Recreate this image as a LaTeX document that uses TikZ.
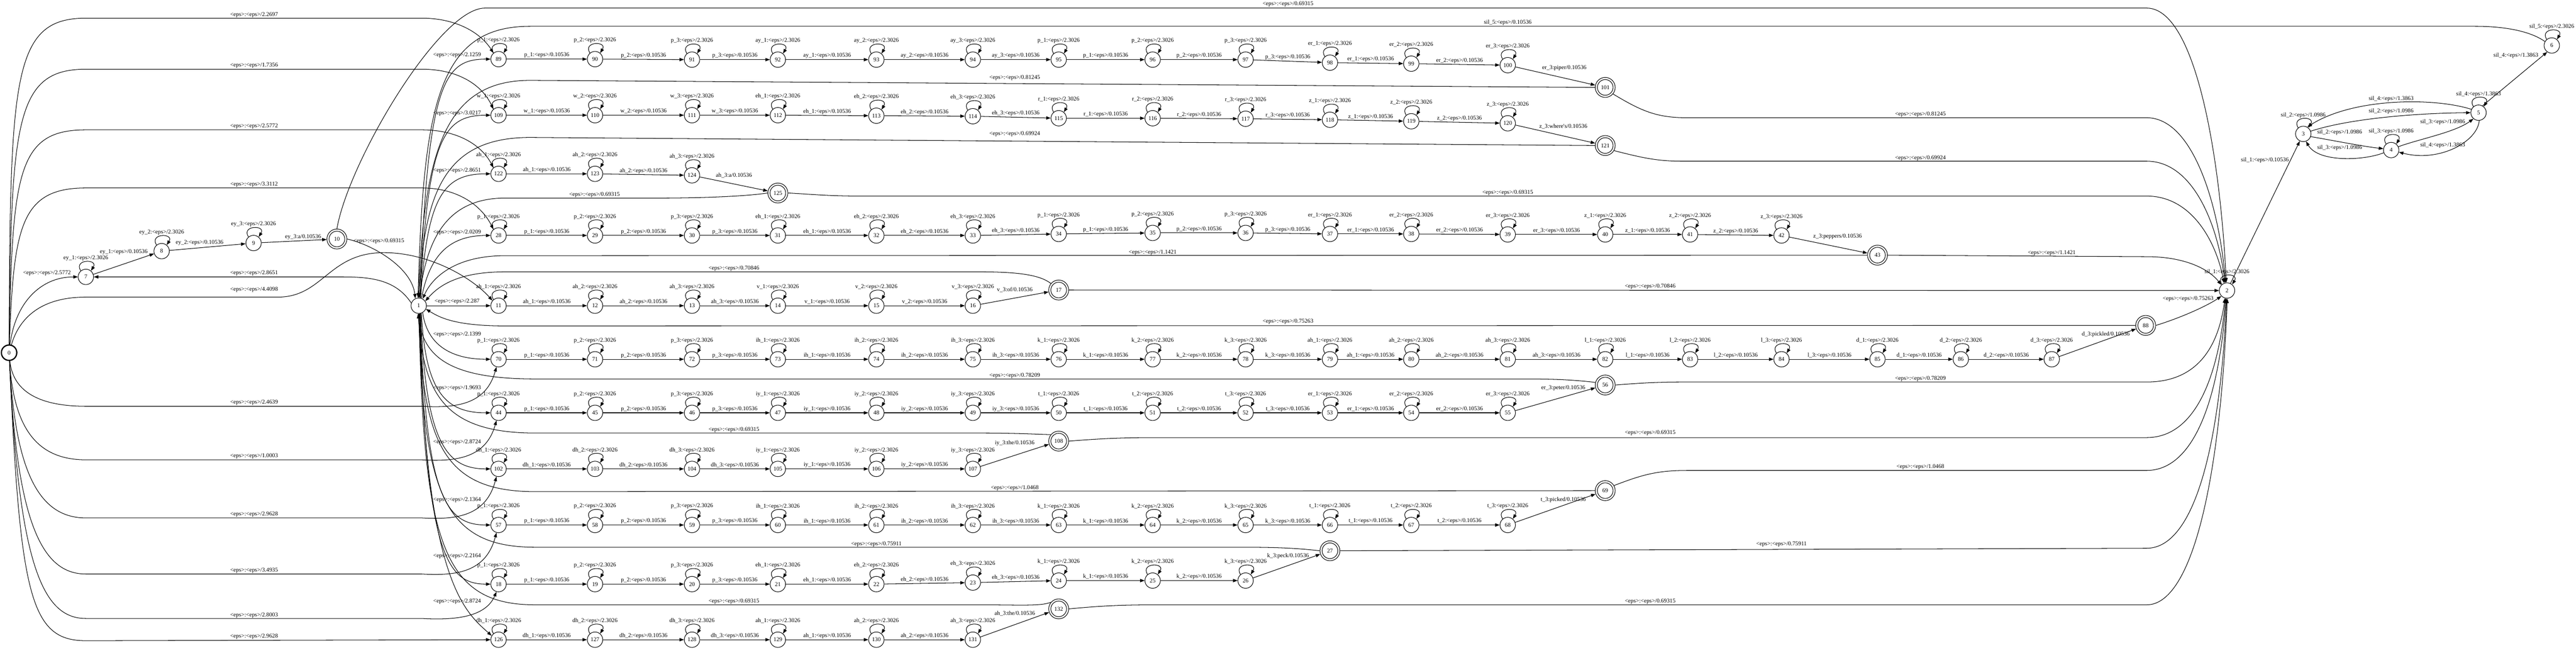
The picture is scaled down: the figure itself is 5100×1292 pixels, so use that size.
\documentclass[tikz,border=0pt]{standalone}
\usepackage{fontspec}
\setmainfont{Liberation Serif}
\usetikzlibrary{arrows.meta}
\newcommand\nf{\fontsize{3.27pt}{3.9pt}\selectfont}
\newcommand\LP[2]{\draw[ed] (n#1.130) .. controls +(122:2.8mm) and +(58:2.8mm) .. (n#1.50); \node[lab] at ([yshift=3.7mm]n#1.center) {#2};}
\newcommand\CN[4]{\draw[ed] (n#1) -- node[lab,yshift=0.75mm]{#3\_#4:<eps>/0.10536} (n#2); \LP{#1}{#3\_#4:<eps>/2.3026}}
\newcommand\CL[7]{\draw[ed] (n#1) -- (n#2); \node[lab] at (#6,#7) {#3\_#4:#5/0.10536}; \LP{#1}{#3\_#4:<eps>/2.3026}}
\newcommand\EL[3]{\node[lab] at (#1,#2) {<eps>:<eps>/#3};}
\begin{document}
\begin{tikzpicture}[x=0.1mm,y=-0.1mm,line width=0.3pt,
 st/.style={circle,draw,minimum size=3.05mm,inner sep=0pt,font=\nf},
 fin/.style={circle,draw,minimum size=3.95mm,inner sep=0pt,font=\nf,path picture={\draw (path picture bounding box.center) circle[radius=1.55mm];}},
 ed/.style={-{Triangle[length=0.9mm,width=0.65mm]}},
 lab/.style={font=\nf,inner sep=0pt}]
\useasboundingbox (0,0) rectangle (5100,1292);
% ---------- nodes
\node[st,line width=0.7pt] (n0) at (18,698) {0};
\foreach \i/\x/\y in {1/829/605,2/4409/575,3/4560/265,4/4734/297,5/4907/223,6/5052/90,
 7/170/548,8/320/497,9/502/481,
 89/987/117,90/1178/117,91/1370/118,92/1540/118,93/1735/118,94/1926/118,95/2096/118,96/2282/118,97/2466/118,98/2633/124,99/2794/126,100/2985/129,
 109/987/228,110/1178/228,111/1370/228,112/1540/228,113/1735/229,114/1926/230,115/2096/234,116/2282/234,117/2466/235,118/2633/237,119/2794/240,120/2985/244,
 122/987/344,123/1178/344,124/1370/347,
 28/987/466,29/1178/466,30/1370/466,31/1540/466,32/1735/466,33/1926/466,34/2096/463,35/2282/461,36/2466/461,37/2633/463,38/2794/463,39/2985/464,40/3178/464,41/3346/464,42/3527/466,
 11/987/605,12/1178/605,13/1370/605,14/1540/605,15/1735/605,16/1926/605,
 70/987/711,71/1178/711,72/1370/711,73/1540/711,74/1735/711,75/1926/711,76/2096/711,77/2282/711,78/2466/711,79/2633/711,80/2794/711,81/2985/711,82/3178/711,83/3346/711,84/3527/711,85/3717/711,86/3882/711,87/4062/711,
 44/987/817,45/1178/817,46/1370/817,47/1540/817,48/1735/817,49/1926/817,50/2096/817,51/2282/817,52/2466/817,53/2633/817,54/2794/817,55/2985/817,
 102/987/928,103/1178/928,104/1370/928,105/1540/928,106/1735/928,107/1926/928,
 57/987/1039,58/1178/1039,59/1370/1039,60/1540/1039,61/1735/1039,62/1926/1039,63/2096/1039,64/2282/1039,65/2466/1039,66/2633/1039,67/2794/1039,68/2985/1039,
 18/987/1156,19/1178/1156,20/1370/1156,21/1540/1156,22/1735/1156,23/1926/1153,24/2096/1149,25/2282/1149,26/2466/1149,
 126/987/1266,127/1178/1266,128/1370/1266,129/1540/1266,130/1735/1266,131/1926/1266}
 {\node[st] (n\i) at (\x,\y) {\i};}
\foreach \i/\x/\y in {10/667/473,101/3178/173,121/3178/288,125/1540/382,43/3717/505,17/2096/574,88/4248/644,56/3178/762,108/2096/873,69/3178/971,27/2633/1090,132/2096/1205}
 {\node[fin] (n\i) at (\x,\y) {\i};}
% ---------- word "a" (ey)
\draw[ed] (n7) -- (n8); \node[lab] at (245,499) {ey\_1:<eps>/0.10536};
\draw[ed] (n8) -- (n9); \node[lab] at (395,480) {ey\_2:<eps>/0.10536};
\draw[ed] (n9) -- (n10); \node[lab] at (600,469) {ey\_3:a/0.10536};
\LP{7}{ey\_1:<eps>/2.3026}\LP{8}{ey\_2:<eps>/2.3026}\LP{9}{ey\_3:<eps>/2.3026}
% ---------- chains
\CN{89}{90}{p}{1}\CN{90}{91}{p}{2}\CN{91}{92}{p}{3}\CN{92}{93}{ay}{1}\CN{93}{94}{ay}{2}\CN{94}{95}{ay}{3}\CN{95}{96}{p}{1}\CN{96}{97}{p}{2}\CN{97}{98}{p}{3}\CN{98}{99}{er}{1}\CN{99}{100}{er}{2}\CL{100}{101}{er}{3}{piper}{3097}{135}
\CN{109}{110}{w}{1}\CN{110}{111}{w}{2}\CN{111}{112}{w}{3}\CN{112}{113}{eh}{1}\CN{113}{114}{eh}{2}\CN{114}{115}{eh}{3}\CN{115}{116}{r}{1}\CN{116}{117}{r}{2}\CN{117}{118}{r}{3}\CN{118}{119}{z}{1}\CN{119}{120}{z}{2}\CL{120}{121}{z}{3}{where\textquotesingle s}{3095}{250}
\CN{122}{123}{ah}{1}\CN{123}{124}{ah}{2}\CL{124}{125}{ah}{3}{a}{1453}{347}
\CN{28}{29}{p}{1}\CN{29}{30}{p}{2}\CN{30}{31}{p}{3}\CN{31}{32}{eh}{1}\CN{32}{33}{eh}{2}\CN{33}{34}{eh}{3}\CN{34}{35}{p}{1}\CN{35}{36}{p}{2}\CN{36}{37}{p}{3}\CN{37}{38}{er}{1}\CN{38}{39}{er}{2}\CN{39}{40}{er}{3}\CN{40}{41}{z}{1}\CN{41}{42}{z}{2}\CL{42}{43}{z}{3}{peppers}{3638}{468}
\CN{11}{12}{ah}{1}\CN{12}{13}{ah}{2}\CN{13}{14}{ah}{3}\CN{14}{15}{v}{1}\CN{15}{16}{v}{2}\CL{16}{17}{v}{3}{of}{2009}{573}
\CN{70}{71}{p}{1}\CN{71}{72}{p}{2}\CN{72}{73}{p}{3}\CN{73}{74}{ih}{1}\CN{74}{75}{ih}{2}\CN{75}{76}{ih}{3}\CN{76}{77}{k}{1}\CN{77}{78}{k}{2}\CN{78}{79}{k}{3}\CN{79}{80}{ah}{1}\CN{80}{81}{ah}{2}\CN{81}{82}{ah}{3}\CN{82}{83}{l}{1}\CN{83}{84}{l}{2}\CN{84}{85}{l}{3}\CN{85}{86}{d}{1}\CN{86}{87}{d}{2}\CL{87}{88}{d}{3}{pickled}{4169}{662}
\CN{44}{45}{p}{1}\CN{45}{46}{p}{2}\CN{46}{47}{p}{3}\CN{47}{48}{iy}{1}\CN{48}{49}{iy}{2}\CN{49}{50}{iy}{3}\CN{50}{51}{t}{1}\CN{51}{52}{t}{2}\CN{52}{53}{t}{3}\CN{53}{54}{er}{1}\CN{54}{55}{er}{2}\CL{55}{56}{er}{3}{peter}{3095}{768}
\CN{102}{103}{dh}{1}\CN{103}{104}{dh}{2}\CN{104}{105}{dh}{3}\CN{105}{106}{iy}{1}\CN{106}{107}{iy}{2}\CL{107}{108}{iy}{3}{the}{2009}{877}
\CN{57}{58}{p}{1}\CN{58}{59}{p}{2}\CN{59}{60}{p}{3}\CN{60}{61}{ih}{1}\CN{61}{62}{ih}{2}\CN{62}{63}{ih}{3}\CN{63}{64}{k}{1}\CN{64}{65}{k}{2}\CN{65}{66}{k}{3}\CN{66}{67}{t}{1}\CN{67}{68}{t}{2}\CL{68}{69}{t}{3}{picked}{3095}{989}
\CN{18}{19}{p}{1}\CN{19}{20}{p}{2}\CN{20}{21}{p}{3}\CN{21}{22}{eh}{1}\CN{22}{23}{eh}{2}\CN{23}{24}{eh}{3}\CN{24}{25}{k}{1}\CN{25}{26}{k}{2}\CL{26}{27}{k}{3}{peck}{2550}{1100}
\CN{126}{127}{dh}{1}\CN{127}{128}{dh}{2}\CN{128}{129}{dh}{3}\CN{129}{130}{ah}{1}\CN{130}{131}{ah}{2}\CL{131}{132}{ah}{3}{the}{2009}{1214}
% ---------- edges from 0
\draw[ed] (n0) .. controls (20,150) and (25,36) .. (170,36) -- (835,36) .. controls (910,36) and (955,70) .. (n89.130); \EL{503}{30}{2.2697}
\draw[ed] (n0) .. controls (22,240) and (30,137) .. (170,137) -- (835,137) .. controls (910,137) and (955,170) .. (n109.130); \EL{503}{130}{1.7356}
\draw[ed] (n0) .. controls (24,340) and (35,257) .. (170,257) -- (835,257) .. controls (910,257) and (955,290) .. (n122.130); \EL{503}{250}{2.5772}
\draw[ed] (n0) .. controls (27,450) and (40,372) .. (170,372) -- (835,372) .. controls (910,372) and (955,410) .. (n28.130); \EL{503}{365}{3.3112}
\draw[ed] (n0) .. controls (30,600) and (80,548) .. (n7.west); \EL{93}{541}{2.5772}
\draw[ed] (n0) .. controls (35,640) and (70,588) .. (170,588) -- (550,588) .. controls (640,588) and (650,500) .. (760,500) .. controls (850,500) and (935,550) .. (n11.140); \EL{503}{573}{4.4098}
\draw[ed] (n0) .. controls (25,770) and (70,804) .. (170,804) -- (835,804) .. controls (905,808) and (962,800) .. (n70.-105); \EL{503}{797}{2.4639}
\draw[ed] (n0) .. controls (27,850) and (75,910) .. (170,910) -- (835,910) .. controls (905,914) and (962,906) .. (n44.-105); \EL{503}{903}{1.0003}
\draw[ed] (n0) .. controls (30,940) and (80,1025) .. (170,1025) -- (835,1025) .. controls (905,1029) and (962,1021) .. (n102.-105); \EL{503}{1018}{2.9628}
\draw[ed] (n0) .. controls (33,1040) and (85,1136) .. (170,1136) -- (835,1136) .. controls (905,1140) and (962,1132) .. (n57.-105); \EL{503}{1129}{3.4935}
\draw[ed] (n0) .. controls (37,1120) and (85,1224) .. (170,1224) -- (835,1224) .. controls (905,1228) and (962,1220) .. (n18.-105); \EL{503}{1218}{2.8003}
\draw[ed] (n0) .. controls (40,1180) and (60,1268) .. (170,1268) -- (n126); \EL{503}{1260}{2.9628}
% ---------- edges from 1
\draw[ed] (n1.80) .. controls (846,160) and (880,117) .. (n89.west); \EL{905}{109}{2.1259}
\draw[ed] (n1.78) .. controls (846,270) and (880,228) .. (n109.west); \EL{905}{224}{3.0217}
\draw[ed] (n1.76) .. controls (846,385) and (880,344) .. (n122.west); \EL{905}{338}{2.8651}
\draw[ed] (n1.70) .. controls (850,510) and (885,466) .. (n28.west); \EL{905}{460}{2.0209}
\draw[ed] (n1) -- (n11); \EL{905}{597}{2.287}
\draw[ed] (n1.160) .. controls (785,556) and (740,548) .. (680,548) -- (n7.east); \EL{503}{541}{2.8651}
\draw[ed] (n1.-60) .. controls (845,680) and (890,711) .. (n70.west); \EL{905}{662}{2.1399}
\draw[ed] (n1.-70) .. controls (842,780) and (885,817) .. (n44.west); \EL{905}{768}{1.9693}
\draw[ed] (n1.-75) .. controls (842,880) and (885,928) .. (n102.west); \EL{905}{875}{2.8724}
\draw[ed] (n1.-78) .. controls (842,990) and (885,1039) .. (n57.west); \EL{905}{989}{2.1364}
\draw[ed] (n1.-80) .. controls (842,1100) and (885,1156) .. (n18.west); \EL{905}{1101}{2.2164}
\draw[ed] (n1.-83) .. controls (840,1150) and (920,1210) .. (n126.150); \EL{905}{1190}{2.8724}
% ---------- edges back to 1
\draw[ed] (n6.150) .. controls (5010,62) and (4960,52) .. (4900,52) -- (1050,52) .. controls (870,52) and (838,200) .. (n1.95); \node[lab] at (2985,45) {sil\_5:<eps>/0.10536};
\draw[ed] (n10.east) .. controls (740,485) and (815,530) .. (n1.115); \EL{750}{477}{0.69315}
\draw[ed] (n101.west) -- (1050,159) .. controls (880,159) and (840,300) .. (n1.92); \EL{2009}{154}{0.81245}
\draw[ed] (n121.west) -- (1050,272) .. controls (880,272) and (840,380) .. (n1.89); \EL{2009}{265}{0.69924}
\draw[ed] (n125.west) .. controls (1480,388) and (1400,392) .. (1300,392) -- (1000,392) .. controls (880,392) and (845,480) .. (n1.86); \EL{1177}{385}{0.69315}
\draw[ed] (n43.west) -- (1000,506) .. controls (900,506) and (855,550) .. (n1.60); \EL{2282}{500}{1.1421}
\draw[ed] (n17.140) .. controls (2060,545) and (2020,538) .. (1940,538) -- (1000,538) .. controls (900,538) and (865,570) .. (n1.35); \EL{1453}{531}{0.70846}
\draw[ed] (n88.west) -- (1000,645) .. controls (900,645) and (870,628) .. (n1.-25); \EL{2550}{636}{0.75263}
\draw[ed] (n56.165) .. controls (3100,750) and (3060,750) .. (3000,750) -- (1060,750) .. controls (880,750) and (838,700) .. (n1.-95); \EL{2009}{744}{0.78209}
\draw[ed] (n108.140) .. controls (2060,860) and (2020,857) .. (1940,857) -- (1060,857) .. controls (880,857) and (838,780) .. (n1.-93); \EL{1453}{851}{0.69315}
\draw[ed] (n69.west) -- (1060,973) .. controls (880,973) and (838,880) .. (n1.-91); \EL{2009}{966}{1.0468}
\draw[ed] (n27.west) .. controls (2560,1084) and (2520,1083) .. (2450,1083) -- (1060,1083) .. controls (880,1083) and (838,980) .. (n1.-89); \EL{1735}{1077}{0.75911}
\draw[ed] (n132.140) .. controls (2060,1200) and (2020,1197) .. (1940,1197) -- (1060,1197) .. controls (880,1197) and (838,1080) .. (n1.-87); \EL{1453}{1190}{0.69315}
% ---------- edges to 2
\draw[ed] (n10.north) .. controls (690,320) and (870,16) .. (960,16) -- (4250,16) .. controls (4345,16) and (4395,300) .. (n2.95); \EL{2550}{8}{0.69315}
\draw[ed] (n101.-40) .. controls (3250,220) and (3280,233) .. (3340,233) -- (4250,233) .. controls (4340,233) and (4392,400) .. (n2.100); \EL{3802}{226}{0.81245}
\draw[ed] (n121.-30) .. controls (3250,312) and (3280,319) .. (3330,319) -- (4250,319) .. controls (4340,319) and (4390,440) .. (n2.105); \EL{3802}{313}{0.69924}
\draw[ed] (n125.east) .. controls (1600,384) and (1640,388) .. (1700,388) -- (4250,388) .. controls (4340,388) and (4388,480) .. (n2.112); \EL{2985}{381}{0.69315}
\draw[ed] (n43.east) -- (4250,508) .. controls (4330,508) and (4375,535) .. (n2.135); \EL{4062}{501}{1.1421}
\draw[ed] (n17) -- (n2); \EL{3267}{567}{0.70846}
\draw[ed] (n88.east) .. controls (4320,628) and (4370,605) .. (n2.-135); \EL{4332}{592}{0.75263}
\draw[ed] (n56.east) .. controls (3260,757) and (3290,756) .. (3340,756) -- (4250,756) .. controls (4340,756) and (4390,700) .. (n2.-105); \EL{3802}{750}{0.78209}
\draw[ed] (n108.east) .. controls (2180,868) and (2220,866) .. (2290,866) -- (4250,866) .. controls (4340,866) and (4390,760) .. (n2.-100); \EL{3267}{857}{0.69315}
\draw[ed] (n69.30) .. controls (3250,940) and (3280,931) .. (3340,931) -- (4250,931) .. controls (4340,931) and (4392,800) .. (n2.-96); \EL{3802}{924}{1.0468}
\draw[ed] (n27.east) -- (4250,1085) .. controls (4340,1085) and (4394,900) .. (n2.-92); \EL{3527}{1077}{0.75911}
\draw[ed] (n132.east) .. controls (2180,1199) and (2220,1197) .. (2290,1197) -- (4250,1197) .. controls (4340,1197) and (4396,950) .. (n2.-88); \EL{3267}{1190}{0.69315}
% ---------- silence cluster
\LP{2}{sil\_1:<eps>/2.3026}
\draw[ed] (n2) -- (n3); \node[lab] at (4484,317) {sil\_1:<eps>/0.10536};
\LP{3}{sil\_2:<eps>/1.0986}
\draw[ed] (n3.20) .. controls (4650,235) and (4780,224) .. (n5.west); \node[lab] at (4734,220) {sil\_2:<eps>/1.0986};
\draw[ed] (n5.155) .. controls (4820,193) and (4660,193) .. (n3.60); \node[lab] at (4734,196) {sil\_4:<eps>/1.3863};
\draw[ed] (n3.-20) .. controls (4630,280) and (4680,290) .. (n4.170); \node[lab] at (4632,262) {sil\_2:<eps>/1.0986};
\draw[ed] (n4.-160) .. controls (4680,318) and (4590,322) .. (n3.-70); \node[lab] at (4632,293) {sil\_3:<eps>/1.0986};
\LP{4}{sil\_3:<eps>/1.0986}
\draw[ed] (n4.25) .. controls (4790,275) and (4860,262) .. (n5.-130); \node[lab] at (4836,242) {sil\_3:<eps>/1.0986};
\draw[ed] (n5.-85) .. controls (4905,280) and (4830,322) .. (n4.-15); \node[lab] at (4836,287) {sil\_4:<eps>/1.3863};
\LP{5}{sil\_4:<eps>/1.3863}
\draw[ed] (n5.60) -- (n6.-125); \node[lab] at (4981,110) {sil\_4:<eps>/1.3863};
\LP{6}{sil\_5:<eps>/2.3026}
\end{tikzpicture}
\end{document}
